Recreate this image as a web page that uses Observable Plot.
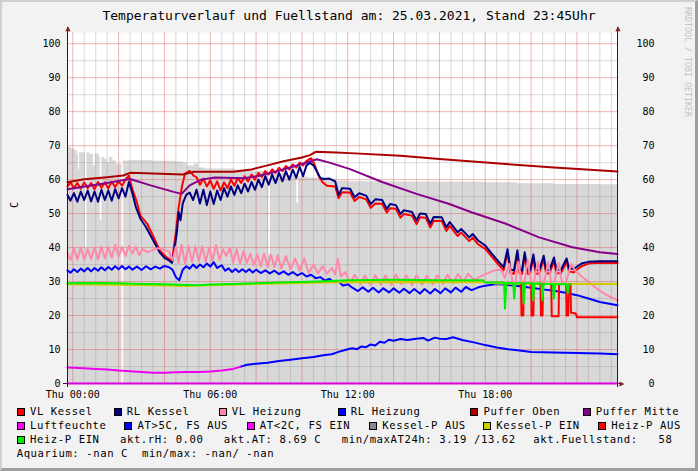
<!DOCTYPE html>
<html>
<head>
<meta charset="utf-8">
<script src="https://cdn.jsdelivr.net/npm/d3@7"></script>
<script src="https://cdn.jsdelivr.net/npm/@observablehq/plot@0.6"></script>
<style>
html,body{margin:0;padding:0;background:#f2f2f2;}
#wrap{position:relative;width:698px;height:471px;overflow:hidden;background:#f2f2f2;font-family:"DejaVu Sans Mono",monospace;color:#000;}
#frame{position:absolute;left:0;top:0;width:698px;height:471px;box-sizing:border-box;border-top:2px solid #cfcfcf;border-left:2px solid #cfcfcf;border-right:3px solid #9e9e9e;border-bottom:3px solid #9e9e9e;pointer-events:none;z-index:5;}
#title{position:absolute;left:0;top:0;width:698px;height:32px;line-height:32px;text-align:center;font-size:13px;white-space:pre;}
#chart{position:absolute;left:0;top:24px;}
#wm{position:absolute;left:683px;top:7px;width:10px;writing-mode:vertical-rl;font-size:8.3px;line-height:10px;color:#c4c4c4;white-space:pre;}
.row{position:absolute;left:0;width:698px;height:14px;line-height:14px;font-size:10.6px;letter-spacing:0.58px;white-space:pre;}
.box{position:absolute;top:3.5px;width:6px;height:6px;border:1px solid #000;}
.lbl{position:absolute;top:0;}
</style>
</head>
<body>
<div id="wrap">
  <div id="title"></div>
  <div id="chart"></div>
  <div id="wm"></div>
  <div id="legend"></div>
  <div id="frame"></div>
</div>
<script>
// ---------- texts ----------
const titleText = "Temperaturverlauf und Fuellstand am: 25.03.2021, Stand 23:45Uhr";
const watermark = "RRDTOOL / TOBI OETIKER";
const yLabel = "C";

// ---------- axes ----------
const xDomain = [-0.23, 23.77];   // hours relative to Thu 00:00
const yMax = 103.3;
const xTickHours = [0, 6, 12, 18];
const xTickLabels = ["Thu 00:00", "Thu 06:00", "Thu 12:00", "Thu 18:00"];
const yTicks = [0, 10, 20, 30, 40, 50, 60, 70, 80, 90, 100];

// ---------- data: [hour, value] ----------
const fuellstand = [[-0.23,69.5],[-0.05,69],[0.1,68.5],[0.2,67.5],[0.25,63],[0.3,68],[0.45,67.8],[0.55,40],[0.62,67.8],[0.75,67.5],[0.9,64],[0.98,67.5],[1.15,66.8],[1.2,48],[1.27,66.5],[1.4,66],[1.5,65],[1.6,66.5],[1.75,65.5],[1.9,64.5],[2.15,0],[2.22,65.5],[2.5,65.6],[3.5,65.4],[4.5,65.2],[4.8,64.8],[5.0,64],[5.3,64.6],[5.5,63.4],[5.8,63.1],[7.1,62.8],[7.8,62.4],[8.55,38],[8.62,62.2],[9,61.8],[9.4,61.2],[9.78,53],[9.85,60.8],[10.3,60.5],[11,60.1],[11.5,59.6],[12,59.4],[14,59.3],[16,59.2],[18,59.1],[19.4,58.8],[21,58.6],[23,58.5],[23.77,58.5]];

const vlKessel = [[-0.23,58],[-0.1,59.2],[0.05,57.5],[0.2,59],[0.35,57.3],[0.5,59.2],[0.65,57.5],[0.8,59],[0.95,57.2],[1.1,59.3],[1.25,57.6],[1.4,59.2],[1.55,57.4],[1.7,59.4],[1.85,57.8],[2.0,59.5],[2.15,58.2],[2.3,60],[2.45,61.2],[2.6,57.2],[2.8,53.3],[2.95,49.4],[3.25,47],[3.5,43.5],[3.8,39.1],[4.1,37.1],[4.33,36],[4.48,43.5],[4.6,50.9],[4.77,58.2],[4.9,61.8],[5.1,62.6],[5.27,61.2],[5.4,60.7],[5.55,58.5],[5.7,60.3],[5.85,58],[6.0,59.8],[6.15,57.3],[6.3,59.5],[6.45,56.8],[6.6,59.2],[6.75,57.5],[6.9,60],[7.05,58.2],[7.2,60.5],[7.35,59],[7.5,61],[7.65,59.5],[7.8,61.5],[7.95,60],[8.1,62],[8.25,60.8],[8.4,62.5],[8.55,61.5],[8.7,63],[8.85,62],[9.0,63.5],[9.15,62.5],[9.3,64],[9.45,63],[9.6,64.5],[9.75,63.5],[9.9,65],[10.05,64.2],[10.2,65.5],[10.4,66.3],[10.55,64.5],[10.7,61.5],[10.9,59.2],[11.1,58.2],[11.45,58],[11.6,54.5],[11.75,56.3],[12.1,56.2],[12.3,53.7],[12.5,54.9],[12.8,54.2],[13.0,51.7],[13.2,53],[13.5,52.9],[13.7,50.3],[13.85,51.6],[14.1,51.4],[14.3,48.8],[14.45,49.9],[14.8,49.4],[15.0,46.9],[15.15,48.9],[15.4,48.8],[15.6,45.9],[15.75,47.9],[16.1,47.8],[16.3,44.9],[16.45,46.4],[16.8,43.4],[16.95,44.4],[17.3,41.9],[17.45,42.9],[17.7,40.9],[18.0,39.6],[18.3,37.2],[18.6,34.8],[18.8,33.3],[18.97,38.5],[19.1,32.5],[19.25,32.3],[19.4,38.2],[19.5,32.5],[19.6,32.2],[19.72,37.6],[19.85,32.3],[19.95,32.2],[20.1,37],[20.2,32.4],[20.35,32.3],[20.55,36.6],[20.65,32.5],[20.8,32.3],[21.0,36.1],[21.1,32.5],[21.3,32.4],[21.55,35.8],[21.65,33],[21.85,32.7],[22.2,34.5],[22.5,35.3],[23,35.5],[23.77,35.5]];

const rlKessel = [[-0.23,55.5],[-0.1,53.8],[0.05,56],[0.2,53.5],[0.35,56.5],[0.5,54],[0.65,56.8],[0.8,53.6],[0.95,56.5],[1.1,53.5],[1.25,57],[1.4,54],[1.55,56.8],[1.7,53.8],[1.85,57.2],[2.0,54.5],[2.15,57.5],[2.3,55],[2.45,59.3],[2.6,56],[2.75,52],[2.95,48.5],[3.2,46],[3.4,43.5],[3.6,41],[3.8,38.5],[4.0,37],[4.2,36.2],[4.33,35.5],[4.45,40],[4.55,45],[4.62,50.5],[4.7,48],[4.8,53],[4.95,55.5],[5.1,56.2],[5.25,54],[5.4,57],[5.55,53],[5.7,57],[5.85,52.5],[6.0,56.5],[6.15,52.8],[6.3,56.8],[6.45,54],[6.6,57.5],[6.75,55],[6.9,58],[7.05,55.5],[7.2,58.3],[7.35,56],[7.5,58.8],[7.65,56.5],[7.8,59.3],[7.95,57],[8.1,60],[8.25,57.8],[8.4,61],[8.55,58.5],[8.7,61.5],[8.85,59],[9.0,62],[9.15,59.5],[9.3,62.5],[9.45,60],[9.6,63],[9.75,60.5],[9.9,63.8],[10.05,61],[10.2,64.2],[10.35,65],[10.5,64.2],[10.65,62.5],[10.8,60.5],[10.95,60.2],[11.2,60.3],[11.45,59.5],[11.6,55.5],[11.75,57.5],[12.1,57.3],[12.3,54.8],[12.5,56],[12.8,55.3],[13.0,52.8],[13.2,54.2],[13.5,54],[13.7,51.4],[13.85,52.8],[14.1,52.5],[14.3,49.9],[14.45,51],[14.8,50.5],[15.0,48],[15.15,50],[15.4,49.9],[15.6,47],[15.75,49],[16.1,48.9],[16.3,46],[16.45,47.5],[16.8,44.5],[16.95,45.5],[17.3,43],[17.45,44],[17.7,42],[18.0,40.6],[18.3,38.1],[18.6,35.7],[18.8,34.2],[18.97,39.5],[19.1,33.5],[19.25,33.3],[19.4,39.2],[19.5,33.5],[19.6,33.2],[19.72,38.6],[19.85,33.3],[19.95,33.2],[20.1,38],[20.2,33.4],[20.35,33.3],[20.55,37.6],[20.65,33.5],[20.8,33.3],[21.0,37.1],[21.1,33.5],[21.3,33.4],[21.55,36.8],[21.65,34],[21.85,33.7],[22.2,35.3],[22.5,35.8],[23,36],[23.77,36]];

const vlHeizung = [[-0.23,38.5],[-0.1,36.3],[0.05,39.8],[0.2,36.5],[0.35,40],[0.5,36.4],[0.65,39.5],[0.8,36.6],[0.95,40.1],[1.1,36.5],[1.25,40.3],[1.4,36.8],[1.55,40.2],[1.7,37],[1.85,40.8],[2.0,37.3],[2.15,40.2],[2.3,37.5],[2.45,40.5],[2.6,38.2],[2.75,40.3],[2.9,37.8],[3.05,39.6],[3.25,38.6],[3.45,39.2],[3.7,39.8],[3.95,39.4],[4.2,38.8],[4.35,36.3],[4.5,40.3],[4.62,35.5],[4.75,40.8],[4.9,35.3],[5.05,40.5],[5.2,35.8],[5.35,40.3],[5.5,36],[5.65,40.4],[5.8,35.8],[5.95,40],[6.1,36.2],[6.25,40.8],[6.4,36.4],[6.55,39.5],[6.7,37.5],[6.85,40],[7.0,35.5],[7.15,39.5],[7.3,35.2],[7.45,39],[7.6,35.5],[7.75,38.2],[7.9,34.8],[8.05,38],[8.2,34.5],[8.35,38.2],[8.5,34.3],[8.65,38],[8.8,34.2],[8.95,37.8],[9.1,33.8],[9.3,37.5],[9.5,33.5],[9.7,36.8],[9.9,33.2],[10.1,36.8],[10.3,32.5],[10.5,35],[10.7,32.4],[10.9,34.5],[11.1,32.3],[11.3,34],[11.45,32.2],[11.57,36.7],[11.7,31.5],[11.9,32.8],[12.1,29.5],[12.3,32],[12.55,29.2],[12.75,31.8],[13.0,29],[13.2,31.9],[13.45,29.1],[13.65,31.8],[13.9,29],[14.1,32],[14.35,29.2],[14.55,31.8],[14.8,29],[15.0,31.9],[15.25,29.1],[15.45,31.7],[15.7,29.2],[15.9,31.8],[16.15,29.3],[16.35,32],[16.6,29.5],[16.8,32.2],[17.05,30],[17.25,32.3],[17.5,30.5],[17.8,31.5],[18.1,32.5],[18.4,33.3],[18.7,33.5],[18.85,31],[19.05,35.2],[19.2,29.5],[19.3,29.2],[19.45,35.8],[19.6,29.3],[19.7,29],[19.85,36.4],[20.0,29.5],[20.1,29.2],[20.3,36],[20.42,29.5],[20.55,29.2],[20.75,35.8],[20.88,29.4],[21.0,29.2],[21.2,35.5],[21.35,29.5],[21.5,29.2],[21.75,35.2],[21.9,33.5],[22.2,31.5],[22.6,29.4],[23.0,27.3],[23.3,26],[23.77,24.5]];

const rlHeizung = [[-0.23,33.3],[-0.1,32.6],[0.05,33.6],[0.2,32.8],[0.35,33.8],[0.5,33],[0.65,34],[0.8,33],[0.95,34],[1.1,33.2],[1.25,34.2],[1.4,33.3],[1.55,34.3],[1.7,33.5],[1.85,34.5],[2.0,33.6],[2.15,34.6],[2.3,33.6],[2.45,34.4],[2.6,33.5],[2.8,34.4],[3.0,33.4],[3.2,34.5],[3.4,33.6],[3.6,34.4],[3.8,33.8],[4.0,34.6],[4.2,34.2],[4.35,33.5],[4.5,31.3],[4.65,30.4],[4.8,33.5],[4.95,34.5],[5.1,33.8],[5.25,35],[5.4,34],[5.55,35],[5.7,34.2],[5.85,35.3],[6.0,34.4],[6.15,35.7],[6.3,34],[6.5,34.8],[6.65,33.2],[6.8,33.9],[6.95,32.8],[7.1,33.7],[7.25,32.8],[7.4,33.6],[7.55,32.8],[7.7,33.6],[7.85,32.7],[8.0,33.5],[8.2,32.5],[8.4,33.3],[8.6,32.4],[8.8,33.2],[9.0,32.2],[9.2,33],[9.4,32],[9.6,32.8],[9.8,31.8],[10.0,32.5],[10.2,31.5],[10.4,32],[10.6,31],[10.8,31.3],[11.0,30.3],[11.2,30.8],[11.4,29.8],[11.6,30],[11.8,28.8],[12.0,29.2],[12.2,28.2],[12.45,27.2],[12.65,28.3],[12.9,27],[13.1,28.2],[13.35,26.8],[13.55,28],[13.8,26.8],[14.0,28],[14.25,26.7],[14.45,27.9],[14.7,26.6],[14.9,27.8],[15.15,26.5],[15.35,27.8],[15.6,26.5],[15.8,27.8],[16.05,26.6],[16.25,28],[16.5,26.8],[16.7,28.2],[16.95,27],[17.15,28.4],[17.4,27.5],[17.7,28.3],[18.0,28.8],[18.5,29.3],[19,29],[19.5,28.6],[20,28.2],[20.5,27.7],[21,27.3],[21.5,26.7],[22,26],[22.5,25],[23,24],[23.77,23]];

const pufferOben = [[-0.23,59.2],[0.5,60.1],[1.5,60.7],[2.2,61.2],[2.5,62],[3.5,61.8],[4.8,61.5],[5.3,62.3],[7.0,62.3],[7.8,63],[8.5,64.2],[9.2,65.4],[10.0,66.5],[10.35,67.2],[10.6,68.2],[11.5,68],[12.1,67.8],[14.3,67],[16,66.1],[18.9,64.6],[21,63.6],[23.77,62.4]];

const pufferMitte = [[-0.23,57.2],[1.3,58.8],[2.5,60.2],[3.4,58.3],[4.4,56.4],[4.75,55.8],[5.1,58.3],[5.6,60],[6.2,60.6],[7.5,60.4],[8.2,61.2],[9,62.6],[10,64.6],[10.65,66],[11.2,65],[12.1,63.1],[13.5,59.3],[15,55.8],[16.4,52.9],[17.4,50.4],[18.9,47],[20.35,43],[21.8,40.1],[23,38.6],[23.77,38.1]];

const luftfeuchte = [[-0.23,0],[23.77,0]];

const atUnter2 = [[-0.23,4.7],[0.5,4.5],[1,4.3],[1.5,4.1],[2,3.8],[2.5,3.6],[3,3.4],[3.5,3.2],[4,3.2],[4.5,3.3],[5,3.4],[5.5,3.4],[6,3.5],[6.5,3.8],[7,4.3],[7.3,4.9]];
const atUeber5 = [[7.3,4.9],[7.6,5.5],[8,5.8],[8.5,6.1],[9,6.6],[9.5,7],[10,7.4],[10.5,7.8],[11,8.4],[11.3,8.6],[11.6,9.3],[12,10.1],[12.2,10.4],[12.4,10.1],[12.6,10.9],[12.8,10.7],[13,11.5],[13.2,11.2],[13.4,12.3],[13.6,12],[13.8,12.9],[14,12.6],[14.3,13.1],[14.6,12.8],[15,13.2],[15.3,13.4],[15.5,12.6],[15.8,13.5],[16,13.2],[16.3,13.1],[16.6,13.6],[17,12.8],[17.5,12.1],[18,11.3],[18.5,10.6],[19,10.1],[19.5,9.7],[20,9.3],[21,9.1],[22,9.0],[23,8.8],[23.77,8.6]];

const kesselPEin = [[-0.23,29.2],[3,29.0],[5,28.7],[6,28.9],[8,29.3],[10,29.6],[12,29.9],[18,29.8],[18.5,29.4],[23.77,29.3]];

const heizPEin = [[-0.23,29.5],[1,29.6],[2,29.5],[3,29.3],[4,29.2],[5,29.0],[5.5,28.9],[6,29.1],[7,29.3],[8,29.5],[9,29.7],[10,29.9],[11,30.1],[12,30.4],[14,30.5],[16,30.4],[17.9,30.4],[18.0,29.7],[18.82,29.7],[18.86,22],[18.92,29.6],[19.22,29.6],[19.26,25],[19.32,29.5],[19.64,29.5],[19.68,23.5],[19.74,29.5],[20.05,29.5],[20.09,24.5],[20.15,29.4],[20.45,29.4],[20.49,24.5],[20.55,29.3],[20.95,29.3],[20.99,25],[21.05,29.2],[21.55,29.2],[21.6,26.5],[21.66,29.2],[21.72,29.2]];

const heizPAus = [[19.56,29.4],[19.58,20],[19.66,20],[19.68,29.4],[19.69,null],[20.0,29.4],[20.02,20],[20.1,20],[20.12,29.3],[20.13,null],[20.41,29.3],[20.43,20],[20.5,20],[20.52,29.3],[20.53,null],[20.88,29.2],[20.9,19.8],[21.2,19.8],[21.22,29.2],[21.23,null],[21.53,29.2],[21.55,20],[21.62,20],[21.64,29.2],[21.65,null],[21.72,29.2],[21.74,20.8],[21.95,20.6],[22.0,19.5],[23.77,19.5]];

// ---------- legend ----------
const legendNames = ["VL Kessel","RL Kessel","VL Heizung","RL Heizung","Puffer Oben","Puffer Mitte","Luftfeuchte","AT>5C, FS AUS","AT<2C, FS EIN","Kessel-P AUS","Kessel-P EIN","Heiz-P AUS","Heiz-P EIN"];
const legendColors = ["#ff0000","#000080","#ff88aa","#0000ff","#aa0000","#880088","#ff00ff","#0000ff","#ff00ff","#888888","#cccc00","#ff0000","#00ee00"];
const infoTexts = ["akt.rH: 0.00","akt.AT: 8.69 C","min/maxAT24h: 3.19 /13.62","akt.Fuellstand:   58"];
const aquariumText = "Aquarium: -nan C  min/max: -nan/ -nan";

// layout of legend (row, left px)
const legendLayout = [[0,16.7],[0,113.5],[0,218.5],[0,337.5],[0,470.3],[0,582.5],[1,16.7],[1,124.3],[1,246.5],[1,369],[1,483],[1,598],[2,16.7]];
const infoLayout = [[2,120],[2,223.8],[2,341.8],[2,533.3]];
const rowCenters = [411.4, 425.3, 439.3, 453.3];

document.getElementById("title").textContent = titleText;
document.getElementById("wm").textContent = watermark;

const legend = document.getElementById("legend");
const rows = rowCenters.map(c => {
  const r = document.createElement("div");
  r.className = "row";
  r.style.top = (c - 7) + "px";
  legend.appendChild(r);
  return r;
});
legendNames.forEach((name, i) => {
  const [ri, left] = legendLayout[i];
  const b = document.createElement("span");
  b.className = "box"; b.style.left = left + "px"; b.style.background = legendColors[i];
  const t = document.createElement("span");
  t.className = "lbl"; t.style.left = (left + 13.3) + "px"; t.textContent = name;
  rows[ri].appendChild(b); rows[ri].appendChild(t);
});
infoTexts.forEach((txt, i) => {
  const [ri, left] = infoLayout[i];
  const t = document.createElement("span");
  t.className = "lbl"; t.style.left = left + "px"; t.textContent = txt;
  rows[ri].appendChild(t);
});
{
  const t = document.createElement("span");
  t.className = "lbl"; t.style.left = "16.7px"; t.textContent = aquariumText;
  rows[3].appendChild(t);
}

// ---------- chart ----------
const X = d => d[0], Y = d => d[1];
const majorX = d3.range(0, 24, 2);
const minorX = d3.range(-0, 24, 0.5).filter(h => h % 2 !== 0).concat([]);
const majorY = d3.range(10, 101, 10);
const minorY = d3.range(5, 103, 5).filter(v => v % 10 !== 0);

const upTri = {draw(ctx){ ctx.moveTo(0,-5); ctx.lineTo(2.6,0); ctx.lineTo(-2.6,0); ctx.closePath(); }};
const rightTri = {draw(ctx){ ctx.moveTo(7,0); ctx.lineTo(2,-2.6); ctx.lineTo(2,2.6); ctx.closePath(); }};

const minorGrid = "rgba(143,143,143,0.33)";
const majorGrid = "rgba(222,79,79,0.42)";
const axisCol = "#1f1f1f";
const arrowCol = "#801f1f";

const lw = 2;
const chart = Plot.plot({
  width: 698,
  height: 378,
  marginLeft: 67,
  marginRight: 81,
  marginTop: 8,
  marginBottom: 19,
  x: {domain: xDomain, label: null},
  y: {domain: [0, yMax], label: null},
  style: {fontFamily: "'DejaVu Sans Mono', monospace", fontSize: "10px", color: "#000", background: "transparent", overflow: "visible"},
  marks: [
    Plot.frame({fill: "white", stroke: "none"}),
    Plot.areaY(fuellstand, {x: X, y: Y, curve: "step-after", fill: "#d8d8d8"}),
    Plot.ruleX(minorX, {stroke: minorGrid}),
    Plot.ruleY(minorY, {stroke: minorGrid}),
    Plot.ruleX(majorX, {stroke: majorGrid}),
    Plot.ruleY(majorY, {stroke: majorGrid}),
    Plot.ruleY([0], {stroke: axisCol, insetLeft: -4, insetRight: -4}),
    Plot.line(vlKessel, {x: X, y: Y, stroke: legendColors[0], strokeWidth: lw}),
    Plot.line(rlKessel, {x: X, y: Y, stroke: legendColors[1], strokeWidth: lw}),
    Plot.line(vlHeizung, {x: X, y: Y, stroke: legendColors[2], strokeWidth: lw}),
    Plot.line(rlHeizung, {x: X, y: Y, stroke: legendColors[3], strokeWidth: lw}),
    Plot.line(pufferOben, {x: X, y: Y, stroke: legendColors[4], strokeWidth: lw}),
    Plot.line(pufferMitte, {x: X, y: Y, stroke: legendColors[5], strokeWidth: lw}),
    Plot.line(luftfeuchte, {x: X, y: Y, stroke: "#dd00dd", strokeWidth: lw}),
    Plot.line(atUeber5, {x: X, y: Y, stroke: legendColors[7], strokeWidth: lw}),
    Plot.line(atUnter2, {x: X, y: Y, stroke: "#ee00ee", strokeWidth: lw}),
    Plot.line(kesselPEin, {x: X, y: Y, stroke: legendColors[10], strokeWidth: lw}),
    Plot.line(heizPAus, {x: X, y: Y, stroke: legendColors[11], strokeWidth: lw}),
    Plot.line(heizPEin, {x: X, y: Y, stroke: legendColors[12], strokeWidth: lw}),
    Plot.ruleX([xDomain[0]], {stroke: axisCol, insetTop: -5, insetBottom: -4}),
    Plot.ruleX([xDomain[1]], {stroke: axisCol, insetTop: -5, insetBottom: -4}),
    Plot.dot([0], {frameAnchor: "top-left", symbol: upTri, r: 3, fill: arrowCol, stroke: "none", dx: 0.5, dy: -1.3}),
    Plot.dot([0], {frameAnchor: "top-right", symbol: upTri, r: 3, fill: arrowCol, stroke: "none", dx: 0.5, dy: -1.3}),
    Plot.dot([0], {frameAnchor: "bottom-right", symbol: rightTri, r: 3, fill: arrowCol, stroke: "none", dy: 0.5}),
    Plot.axisX({ticks: xTickHours, tickFormat: d => xTickLabels[xTickHours.indexOf(d)], tickSize: 0, tickPadding: 7, label: null}),
    Plot.axisY({ticks: yTicks, tickSize: 0, tickPadding: 7, label: null}),
    Plot.axisY({anchor: "right", ticks: yTicks, tickSize: 0, tickPadding: 37, textAnchor: "end", label: null}),
    Plot.text([yLabel], {frameAnchor: "left", text: d => d, rotate: -90, dx: -53, fontSize: 10})
  ]
});
document.getElementById("chart").appendChild(chart);
</script>
</body>
</html>
